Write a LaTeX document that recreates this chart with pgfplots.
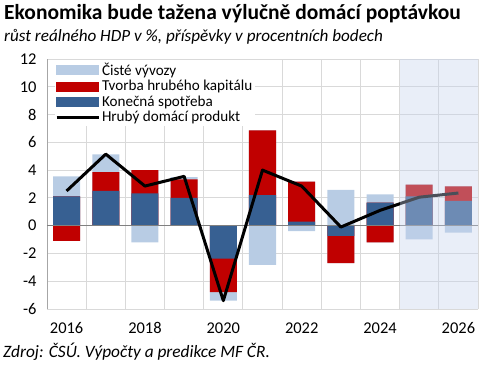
\documentclass[border=0pt]{standalone}
\usepackage{pgfplots}
\pgfplotsset{compat=1.18}
\usepackage{pgfplotstable}
\usepackage{fontspec}
\setmainfont{Carlito}
\definecolor{lightc}{HTML}{B8CCE4}
\definecolor{redc}{HTML}{C00000}
\definecolor{bluec}{HTML}{376092}
\definecolor{gridc}{HTML}{D9D9D9}
\definecolor{axc}{HTML}{A6A6A6}
\definecolor{zeroc}{HTML}{808080}
\definecolor{shadec}{HTML}{C5D2EC}
\pgfplotstableread{
year b r l g
2016 2.10 -1.10 1.45 2.50
2017 2.50 1.35 1.28 5.15
2018 2.33 1.66 -1.20 2.85
2019 2.00 1.34 0.16 3.55
2020 -2.37 -2.42 -0.60 -5.40
2021 2.20 4.66 -2.83 4.00
2022 0.29 2.88 -0.40 2.85
2023 -0.74 -1.96 2.57 -0.10
2024 1.66 -1.20 0.60 1.10
2025 2.10 0.85 -0.98 2.05
2026 1.78 1.05 -0.50 2.35
}\data
\begin{document}
\begin{tikzpicture}
\path[use as bounding box] (0bp,0bp) rectangle (480bp,366bp);
\node[anchor=base west, inner sep=0, font=\fontsize{21.6}{22}\selectfont\bfseries] at (4bp,346bp) {Ekonomika bude tažena výlučně domácí poptávkou};
\node[anchor=base west, inner sep=0, font=\fontsize{17.2}{18}\selectfont\itshape] at (4bp,324bp) {růst reálného HDP v \%, příspěvky v procentních bodech};
\node[anchor=base west, inner sep=0, font=\fontsize{17.4}{18}\selectfont\itshape] at (3bp,9bp) {Zdroj: ČSÚ. Výpočty a predikce MF ČR.};
\begin{axis}[
  at={(47bp,57bp)}, anchor=south west,
  scale only axis, width=431bp, height=250bp,
  xmin=2015.5, xmax=2026.5, ymin=-6, ymax=12,
  xtick={2016,2018,...,2026},
  minor xtick={2015.5,2016.5,...,2026.5},
  ytick={-6,-4,...,12},
  xminorgrids, ymajorgrids,
  grid style={gridc, line width=0.8bp},
  minor grid style={gridc, line width=0.8bp},
  major tick length=0, minor tick length=0,
  axis lines*=left,
  x axis line style={draw=gridc, line width=0.8bp},
  y axis line style={draw=axc, line width=0.8bp},
  tick label style={font=\fontsize{16.5}{16.5}\selectfont},
  /pgf/number format/assume math mode=true,
  xticklabel style={/pgf/number format/1000 sep=, yshift=-10bp},
  yticklabel style={xshift=-7bp},
  mybar/.style={ybar, bar width=0.69, bar shift=0pt, draw=none, forget plot},
  legend style={at={(0.017,0.995)}, anchor=north west, draw=none, fill=white,
    font=\fontsize{15.2}{15.2}\selectfont, row sep=-0.5bp, inner sep=0.5bp,
    cells={anchor=west}},
  legend cell align=left,
]
\addlegendimage{legend image code/.code={\fill[lightc] (0bp,-4.5bp) rectangle (42bp,4.5bp);}}
\addlegendentry{Čisté vývozy}
\addlegendimage{legend image code/.code={\fill[redc] (0bp,-4.5bp) rectangle (42bp,4.5bp);}}
\addlegendentry{Tvorba hrubého kapitálu}
\addlegendimage{legend image code/.code={\fill[bluec] (0bp,-4.5bp) rectangle (42bp,4.5bp);}}
\addlegendentry{Konečná spotřeba}
\addlegendimage{legend image code/.code={\draw[black, line width=3bp] (0bp,0bp) -- (42bp,0bp);}}
\addlegendentry{Hrubý domácí produkt}
% positive stacks (overlaid cumulative)
\addplot[mybar, fill=lightc] table[x=year, y expr={max(\thisrow{b},0)+max(\thisrow{r},0)+max(\thisrow{l},0)}] {\data};
\addplot[mybar, fill=redc] table[x=year, y expr={max(\thisrow{b},0)+max(\thisrow{r},0)}] {\data};
\addplot[mybar, fill=bluec] table[x=year, y expr={max(\thisrow{b},0)}] {\data};
% negative stacks
\addplot[mybar, fill=lightc] table[x=year, y expr={min(\thisrow{b},0)+min(\thisrow{r},0)+min(\thisrow{l},0)}] {\data};
\addplot[mybar, fill=redc] table[x=year, y expr={min(\thisrow{b},0)+min(\thisrow{r},0)}] {\data};
\addplot[mybar, fill=bluec] table[x=year, y expr={min(\thisrow{b},0)}] {\data};
\addplot[forget plot, zeroc, line width=0.9bp] coordinates {(2015.5,0) (2026.5,0)};
\addplot[forget plot, black, line width=3bp, line join=round] table[x=year, y=g] {\data};
\addplot[forget plot, draw=none, fill=shadec, fill opacity=0.38] coordinates {(2024.5,-6) (2024.5,12) (2026.5,12) (2026.5,-6)} -- cycle;
\end{axis}
\end{tikzpicture}
\end{document}
